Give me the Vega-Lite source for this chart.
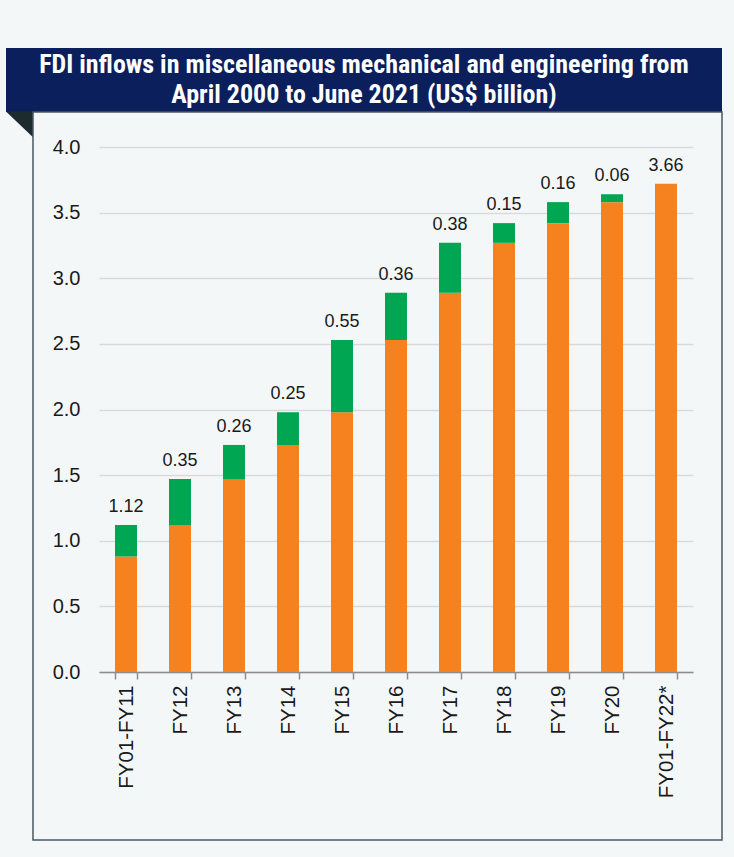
{
  "$schema": "https://vega.github.io/schema/vega-lite/v6.json",
  "background": "#f4f7f8",
  "padding": {"top": 48, "left": 6, "right": 12, "bottom": 17},
  "config": {
    "view": {"stroke": null},
    "font": "Liberation Sans",
    "concat": {"spacing": 0}
  },
  "datasets": {
    "fdi": [
      {"cat": "FY01-FY11", "base": 0.88, "total": 1.12, "label": "1.12"},
      {"cat": "FY12", "base": 1.12, "total": 1.47, "label": "0.35"},
      {"cat": "FY13", "base": 1.47, "total": 1.73, "label": "0.26"},
      {"cat": "FY14", "base": 1.73, "total": 1.98, "label": "0.25"},
      {"cat": "FY15", "base": 1.98, "total": 2.53, "label": "0.55"},
      {"cat": "FY16", "base": 2.53, "total": 2.89, "label": "0.36"},
      {"cat": "FY17", "base": 2.89, "total": 3.27, "label": "0.38"},
      {"cat": "FY18", "base": 3.27, "total": 3.42, "label": "0.15"},
      {"cat": "FY19", "base": 3.42, "total": 3.58, "label": "0.16"},
      {"cat": "FY20", "base": 3.58, "total": 3.64, "label": "0.06"},
      {"cat": "FY01-FY22*", "base": 3.72, "total": 3.72, "label": "3.66"}
    ]
  },
  "spacing": 0,
  "bounds": "flush",
  "vconcat": [
    {
      "width": 716,
      "height": 64,
      "view": {"fill": "#0b1f5c", "stroke": null},
      "data": {"values": [
        {"line": 1, "t": "FDI inflows in miscellaneous mechanical and engineering from"},
        {"line": 2, "t": "April 2000 to June 2021 (US$ billion)"}
      ]},
      "mark": {"type": "text", "color": "#ffffff", "fontWeight": "bold", "fontSize": 26, "font": "Liberation Sans Narrow, Roboto Condensed, Arial Narrow, Liberation Sans"},
      "encoding": {
        "y": {"field": "line", "type": "ordinal", "axis": null, "scale": {"padding": 0.55}},
        "text": {"field": "t"}
      }
    },
    {
      "spacing": 0,
      "bounds": "flush",
      "hconcat": [
        {
          "width": 27,
          "height": 26,
          "data": {"values": [{"k": 1}]},
          "mark": {"type": "point", "shape": "M -1 -1 L 1 -1 L 1 0.9 Z", "filled": true, "size": 729, "color": "#1c2b30", "opacity": 1, "strokeWidth": 0}
        },
        {
          "width": 689,
          "height": 728,
          "view": {"fill": "#f4f7f8", "stroke": "#4a5a60", "strokeWidth": 1.5},
          "data": {"name": "fdi"},
          "encoding": {
            "x": {
              "field": "cat", "type": "nominal", "sort": null,
              "scale": {"range": [66, 660], "paddingInner": 0.593, "paddingOuter": 0.2965},
              "axis": {
                "title": null, "orient": "bottom", "offset": -168,
                "domainColor": "#8c8c8c", "domainWidth": 1.5,
                "tickColor": "#8c8c8c", "tickWidth": 1.5, "tickSize": 7, "tickBand": "extent",
                "labelAngle": -90, "labelFontSize": 20.5, "labelColor": "#1a1a1a", "labelPadding": 6, "grid": false
              }
            }
          },
          "layer": [
            {
              "mark": {"type": "bar", "color": "#f5821f"},
              "encoding": {
                "y": {
                  "field": "base", "type": "quantitative",
                  "scale": {"domain": [0, 4], "range": [560, 35], "nice": false},
                  "axis": {
                    "title": null, "offset": -66, "domain": false, "ticks": false,
                    "values": [0, 0.5, 1, 1.5, 2, 2.5, 3, 3.5, 4], "format": ".1f",
                    "labelFontSize": 20, "labelColor": "#1a1a1a", "labelPadding": 19,
                    "grid": true, "gridColor": "#d9d9d9", "gridWidth": 1.5
                  }
                }
              }
            },
            {
              "mark": {"type": "bar", "color": "#00a651"},
              "encoding": {
                "y": {"field": "base", "type": "quantitative"},
                "y2": {"field": "total"}
              }
            },
            {
              "mark": {"type": "text", "baseline": "bottom", "dy": -9, "fontSize": 18, "color": "#1a1a1a"},
              "encoding": {
                "y": {"field": "total", "type": "quantitative"},
                "text": {"field": "label"}
              }
            }
          ]
        }
      ]
    }
  ]
}
